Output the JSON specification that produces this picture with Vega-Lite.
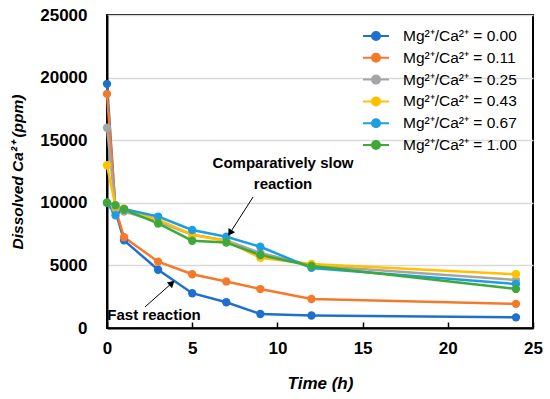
{
  "$schema": "https://vega.github.io/schema/vega-lite/v6.json",
  "width": 426,
  "height": 313,
  "autosize": "none",
  "padding": {"left": 107, "top": 15, "right": 17, "bottom": 71},
  "background": "white",
  "config": {
    "view": {"stroke": "black", "strokeWidth": 2},
    "font": "Liberation Sans"
  },
  "datasets": {
    "series": [
      {"t": 0, "v": 19500, "s": "Mg²⁺/Ca²⁺ = 0.00"},
      {"t": 0.5, "v": 9300, "s": "Mg²⁺/Ca²⁺ = 0.00"},
      {"t": 1, "v": 7000, "s": "Mg²⁺/Ca²⁺ = 0.00"},
      {"t": 3, "v": 4650, "s": "Mg²⁺/Ca²⁺ = 0.00"},
      {"t": 5, "v": 2780, "s": "Mg²⁺/Ca²⁺ = 0.00"},
      {"t": 7, "v": 2060, "s": "Mg²⁺/Ca²⁺ = 0.00"},
      {"t": 9, "v": 1120, "s": "Mg²⁺/Ca²⁺ = 0.00"},
      {"t": 12, "v": 1000, "s": "Mg²⁺/Ca²⁺ = 0.00"},
      {"t": 24, "v": 850, "s": "Mg²⁺/Ca²⁺ = 0.00"},
      {"t": 0, "v": 18700, "s": "Mg²⁺/Ca²⁺ = 0.11"},
      {"t": 0.5, "v": 9500, "s": "Mg²⁺/Ca²⁺ = 0.11"},
      {"t": 1, "v": 7250, "s": "Mg²⁺/Ca²⁺ = 0.11"},
      {"t": 3, "v": 5300, "s": "Mg²⁺/Ca²⁺ = 0.11"},
      {"t": 5, "v": 4290, "s": "Mg²⁺/Ca²⁺ = 0.11"},
      {"t": 7, "v": 3720, "s": "Mg²⁺/Ca²⁺ = 0.11"},
      {"t": 9, "v": 3110, "s": "Mg²⁺/Ca²⁺ = 0.11"},
      {"t": 12, "v": 2320, "s": "Mg²⁺/Ca²⁺ = 0.11"},
      {"t": 24, "v": 1930, "s": "Mg²⁺/Ca²⁺ = 0.11"},
      {"t": 0, "v": 16000, "s": "Mg²⁺/Ca²⁺ = 0.25"},
      {"t": 0.5, "v": 9500, "s": "Mg²⁺/Ca²⁺ = 0.25"},
      {"t": 1, "v": 9300, "s": "Mg²⁺/Ca²⁺ = 0.25"},
      {"t": 3, "v": 8500, "s": "Mg²⁺/Ca²⁺ = 0.25"},
      {"t": 5, "v": 7450, "s": "Mg²⁺/Ca²⁺ = 0.25"},
      {"t": 7, "v": 7000, "s": "Mg²⁺/Ca²⁺ = 0.25"},
      {"t": 9, "v": 6000, "s": "Mg²⁺/Ca²⁺ = 0.25"},
      {"t": 12, "v": 5000, "s": "Mg²⁺/Ca²⁺ = 0.25"},
      {"t": 24, "v": 3830, "s": "Mg²⁺/Ca²⁺ = 0.25"},
      {"t": 0, "v": 13000, "s": "Mg²⁺/Ca²⁺ = 0.43"},
      {"t": 0.5, "v": 9700, "s": "Mg²⁺/Ca²⁺ = 0.43"},
      {"t": 1, "v": 9550, "s": "Mg²⁺/Ca²⁺ = 0.43"},
      {"t": 3, "v": 8650, "s": "Mg²⁺/Ca²⁺ = 0.43"},
      {"t": 5, "v": 7450, "s": "Mg²⁺/Ca²⁺ = 0.43"},
      {"t": 7, "v": 6950, "s": "Mg²⁺/Ca²⁺ = 0.43"},
      {"t": 9, "v": 5600, "s": "Mg²⁺/Ca²⁺ = 0.43"},
      {"t": 12, "v": 5110, "s": "Mg²⁺/Ca²⁺ = 0.43"},
      {"t": 24, "v": 4290, "s": "Mg²⁺/Ca²⁺ = 0.43"},
      {"t": 0, "v": 10000, "s": "Mg²⁺/Ca²⁺ = 0.67"},
      {"t": 0.5, "v": 9000, "s": "Mg²⁺/Ca²⁺ = 0.67"},
      {"t": 1, "v": 9500, "s": "Mg²⁺/Ca²⁺ = 0.67"},
      {"t": 3, "v": 8900, "s": "Mg²⁺/Ca²⁺ = 0.67"},
      {"t": 5, "v": 7830, "s": "Mg²⁺/Ca²⁺ = 0.67"},
      {"t": 7, "v": 7290, "s": "Mg²⁺/Ca²⁺ = 0.67"},
      {"t": 9, "v": 6490, "s": "Mg²⁺/Ca²⁺ = 0.67"},
      {"t": 12, "v": 4800, "s": "Mg²⁺/Ca²⁺ = 0.67"},
      {"t": 24, "v": 3510, "s": "Mg²⁺/Ca²⁺ = 0.67"},
      {"t": 0, "v": 10000, "s": "Mg²⁺/Ca²⁺ = 1.00"},
      {"t": 0.5, "v": 9800, "s": "Mg²⁺/Ca²⁺ = 1.00"},
      {"t": 1, "v": 9450, "s": "Mg²⁺/Ca²⁺ = 1.00"},
      {"t": 3, "v": 8350, "s": "Mg²⁺/Ca²⁺ = 1.00"},
      {"t": 5, "v": 6970, "s": "Mg²⁺/Ca²⁺ = 1.00"},
      {"t": 7, "v": 6830, "s": "Mg²⁺/Ca²⁺ = 1.00"},
      {"t": 9, "v": 5830, "s": "Mg²⁺/Ca²⁺ = 1.00"},
      {"t": 12, "v": 4950, "s": "Mg²⁺/Ca²⁺ = 1.00"},
      {"t": 24, "v": 3120, "s": "Mg²⁺/Ca²⁺ = 1.00"}
    ],
    "notes": [
      {"x": 10.33, "y": 13180, "label": "Comparatively slow"},
      {"x": 10.33, "y": 11500, "label": "reaction"},
      {"x": 2.76, "y": 1040, "label": "Fast reaction"}
    ],
    "arrows": [
      {"name": "slow", "x": 8.57, "y": 10460, "x2": 7.22, "y2": 7590},
      {"name": "fast", "x": 2.23, "y": 1680, "x2": 3.81, "y2": 3590}
    ]
  },
  "layer": [
    {
      "data": {"name": "series"},
      "mark": {"type": "line", "strokeWidth": 2.5, "point": {"filled": true, "size": 70, "opacity": 1}},
      "encoding": {
        "x": {
          "field": "t", "type": "quantitative",
          "scale": {"domain": [0, 25], "nice": false},
          "axis": {
            "values": [0, 5, 10, 15, 20, 25],
            "grid": false,
            "title": "Time (h)",
            "titleFontSize": 17,
            "titleFontWeight": "bold",
            "titleFontStyle": "italic",
            "titlePadding": 19,
            "labelFontSize": 17,
            "labelFontWeight": "bold",
            "labelColor": "black",
            "labelPadding": 18,
            "tickSize": -6,
            "tickColor": "black",
            "tickWidth": 1.5,
            "domainColor": "black",
            "domainWidth": 2,
            "labelFlush": false
          }
        },
        "y": {
          "field": "v", "type": "quantitative",
          "scale": {"domain": [0, 25000], "nice": false},
          "axis": {
            "values": [0, 5000, 10000, 15000, 20000, 25000],
            "format": "d",
            "grid": true,
            "gridColor": "#d9d9d9",
            "gridWidth": 1.5,
            "ticks": false,
            "title": "Dissolved Ca²⁺ (ppm)",
            "titleFontSize": 15.5,
            "titleFontWeight": "bold",
            "titleFontStyle": "italic",
            "titlePadding": 14,
            "labelFontSize": 17,
            "labelFontWeight": "bold",
            "labelColor": "black",
            "labelPadding": 20,
            "domainColor": "black",
            "domainWidth": 2
          }
        },
        "color": {
          "field": "s", "type": "nominal",
          "scale": {
            "domain": ["Mg²⁺/Ca²⁺ = 0.00", "Mg²⁺/Ca²⁺ = 0.11", "Mg²⁺/Ca²⁺ = 0.25", "Mg²⁺/Ca²⁺ = 0.43", "Mg²⁺/Ca²⁺ = 0.67", "Mg²⁺/Ca²⁺ = 1.00"],
            "range": ["#1F6FCF", "#F5792A", "#A5A5A5", "#FFC000", "#1E9EE0", "#3EA93A"]
          },
          "legend": {
            "title": null,
            "orient": "none",
            "legendX": 258,
            "legendY": 10,
            "padding": 0,
            "symbolType": "M-1.3,0H1.3M0.4,0A0.4,0.4,0,1,1,-0.4,0A0.4,0.4,0,1,1,0.4,0Z",
            "symbolSize": 400,
            "symbolStrokeWidth": 2,
            "labelFontSize": 15.5,
            "labelColor": "black",
            "labelOffset": 16,
            "rowPadding": 1.8,
            "labelLimit": 300,
            "encode": {
              "symbols": {"update": {"fill": {"scale": "color", "field": "value"}, "stroke": {"scale": "color", "field": "value"}, "opacity": {"value": 1}}}
            }
          }
        },
        "order": {"field": "t", "type": "quantitative"}
      }
    },
    {
      "data": {"name": "notes"},
      "mark": {"type": "text", "fontWeight": "bold", "fontSize": 15, "color": "black", "align": "center", "baseline": "middle"},
      "encoding": {
        "x": {"field": "x", "type": "quantitative"},
        "y": {"field": "y", "type": "quantitative"},
        "text": {"field": "label"}
      }
    },
    {
      "data": {"name": "arrows"},
      "mark": {"type": "rule", "color": "black", "strokeWidth": 1},
      "encoding": {
        "x": {"field": "x", "type": "quantitative"},
        "y": {"field": "y", "type": "quantitative"},
        "x2": {"field": "x2"},
        "y2": {"field": "y2"}
      }
    },
    {
      "data": {"name": "arrows"},
      "transform": [{"filter": "datum.name === 'slow'"}],
      "mark": {"type": "point", "shape": "triangle-up", "filled": true, "color": "black", "size": 60, "angle": 212, "opacity": 1},
      "encoding": {
        "x": {"field": "x2", "type": "quantitative"},
        "y": {"field": "y2", "type": "quantitative"}
      }
    },
    {
      "data": {"name": "arrows"},
      "transform": [{"filter": "datum.name === 'fast'"}],
      "mark": {"type": "point", "shape": "triangle-up", "filled": true, "color": "black", "size": 60, "angle": 48, "opacity": 1},
      "encoding": {
        "x": {"field": "x2", "type": "quantitative"},
        "y": {"field": "y2", "type": "quantitative"}
      }
    }
  ]
}
